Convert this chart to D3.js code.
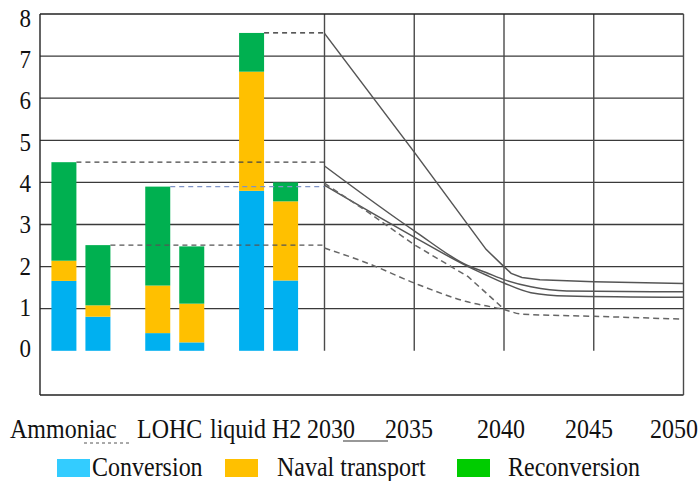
<!DOCTYPE html>
<html>
<head>
<meta charset="utf-8">
<script src="https://cdn.jsdelivr.net/npm/d3@7"></script>
<style>
  html, body { margin: 0; padding: 0; background: #fff; }
  svg { display: block; }
  svg text { font-family: 'Liberation Serif', 'DejaVu Serif', serif; }
</style>
</head>
<body>
<div id="chart"></div>
<script>
// bars: two bars per carrier, stacked cost parts
const groups = ["Ammoniac", "LOHC", "liquid H2"];
const barGroup = ["Ammoniac", "Ammoniac", "LOHC", "LOHC", "liquid H2", "liquid H2"];
const barVariant = [0, 1, 0, 1, 0, 1];
const conversion = [1.66, 0.81, 0.42, 0.20, 3.80, 1.67];
const naval = [0.48, 0.27, 1.13, 0.92, 2.83, 1.88];
const reconversion = [2.34, 1.43, 2.35, 1.36, 0.92, 0.45];
const parts = ["Conversion", "Naval transport", "Reconversion"];

// projections 2030-2050
const yearTicks = [2030, 2035, 2040, 2045, 2050];
const highYears = [2030, 2035, 2039, 2040, 2040.4, 2041, 2042, 2045, 2050];
const highValues = [7.54, 4.72, 2.41, 2.0, 1.84, 1.74, 1.69, 1.64, 1.60];
const ammYears = [2030, 2035, 2038, 2039, 2040, 2041.5, 2043.5, 2050];
const ammValues = [4.39, 2.85, 2.02, 1.86, 1.69, 1.52, 1.42, 1.40];
const lohcYears = [2030, 2035, 2038, 2039, 2040, 2041.5, 2043.5, 2050];
const lohcValues = [3.93, 2.70, 2.0, 1.80, 1.61, 1.38, 1.30, 1.27];
const lh2LowYears = [2030, 2032.5, 2035, 2038, 2040];
const lh2LowValues = [3.98, 3.27, 2.52, 1.76, 0.99];
const lowYears = [2030, 2032.4, 2035, 2037.9, 2040, 2041, 2045, 2050];
const lowValues = [2.44, 2.08, 1.61, 1.17, 0.98, 0.87, 0.82, 0.75];

const yTicks = [0, 1, 2, 3, 4, 5, 6, 7, 8];

const width = 698, height = 481;
const svg = d3.select("#chart").append("svg")
  .attr("width", width).attr("height", height);

const y = d3.scaleLinear().domain([-1.05, 8]).range([395, 14]);
const yLabel = d3.scaleLinear().domain([0, 8]).range([348.5, 18]);
const xYear = d3.scaleLinear().domain([2030, 2050]).range([324.5, 683.5]);
const xGroup = d3.scaleBand().domain(groups).range([34, 315.5]);
const xInner = d3.scaleBand().domain([0, 1]).range([0, 59]).paddingInner(0.265);
const barX = i => xGroup(barGroup[i]) + (xGroup.bandwidth() - 59) / 2 + xInner(barVariant[i]);

const plotLeft = 40, plotRight = xYear(2050), plotTop = y(8), plotBottom = y(-1.05);

// horizontal grid
svg.append("g").selectAll("line")
  .data(yTicks.filter(d => d > 0 && d < 8))
  .enter().append("line")
  .attr("x1", plotLeft).attr("x2", plotRight)
  .attr("y1", d => y(d)).attr("y2", d => y(d))
  .attr("stroke", "#3a3a3a").attr("stroke-width", 1.3);

// vertical year lines
svg.append("g").selectAll("line")
  .data(yearTicks.slice(0, -1))
  .enter().append("line")
  .attr("x1", d => xYear(d)).attr("x2", d => xYear(d))
  .attr("y1", plotTop).attr("y2", y(0))
  .attr("stroke", "#4a4a4a").attr("stroke-width", 1.4);

// stacked bars
const rows = conversion.map((c, i) => ({ i, "Conversion": c, "Naval transport": naval[i], "Reconversion": reconversion[i] }));
const stack = d3.stack().keys(parts)(rows);
const barColor = d3.scaleOrdinal().domain(parts).range(["#00b0f0", "#ffc000", "#00b050"]);

svg.append("g").selectAll("g")
  .data(stack)
  .enter().append("g")
  .attr("fill", d => barColor(d.key))
  .selectAll("rect")
  .data(d => d)
  .enter().append("rect")
  .attr("x", d => barX(d.data.i))
  .attr("width", xInner.bandwidth())
  .attr("y", d => y(d[1]))
  .attr("height", d => y(d[0]) - y(d[1]));

// dashed connectors from bar tops to 2030
const totals = conversion.map((c, i) => c + naval[i] + reconversion[i]);
const connectors = [
  { bar: 4, color: "#222" },
  { bar: 0, color: "#444" },
  { bar: 2, color: "#7f93c6" },
  { bar: 1, color: "#555" }
];
svg.append("g").selectAll("line")
  .data(connectors)
  .enter().append("line")
  .attr("x1", d => barX(d.bar) + xInner.bandwidth())
  .attr("x2", xYear(2030))
  .attr("y1", d => y(totals[d.bar])).attr("y2", d => y(totals[d.bar]))
  .attr("stroke", d => d.color)
  .attr("stroke-width", 1.3)
  .attr("stroke-dasharray", "5,4");

// projection lines
const zip = (a, b) => a.map((v, k) => [v, b[k]]);
const lineLinear = d3.line().x(d => xYear(d[0])).y(d => y(d[1]));
const lineSmooth = d3.line().x(d => xYear(d[0])).y(d => y(d[1])).curve(d3.curveMonotoneX);
const series = [
  { pts: zip(highYears, highValues), dash: null, gen: lineLinear },
  { pts: zip(ammYears, ammValues), dash: null, gen: lineSmooth },
  { pts: zip(lohcYears, lohcValues), dash: null, gen: lineSmooth },
  { pts: zip(lh2LowYears, lh2LowValues), dash: "6,4", gen: lineLinear },
  { pts: zip(lowYears, lowValues), dash: "6,4", gen: lineSmooth }
];
svg.append("g").selectAll("path")
  .data(series)
  .enter().append("path")
  .attr("d", d => d.gen(d.pts))
  .attr("fill", "none")
  .attr("stroke", d => d.dash ? "#666" : "#555")
  .attr("stroke-width", 1.5)
  .attr("stroke-dasharray", d => d.dash);

// frame
const frame = svg.append("g").attr("stroke", "#222").attr("stroke-width", 1.4);
frame.append("line").attr("x1", plotLeft).attr("x2", plotRight).attr("y1", plotTop).attr("y2", plotTop);
frame.append("line").attr("x1", plotLeft).attr("x2", plotRight).attr("y1", plotBottom).attr("y2", plotBottom);
frame.append("line").attr("x1", plotLeft).attr("x2", plotLeft).attr("y1", plotTop).attr("y2", plotBottom);
frame.append("line").attr("x1", plotRight).attr("x2", plotRight).attr("y1", plotTop).attr("y2", plotBottom)
  .attr("stroke", "#4a4a4a");

const serif = "'Liberation Serif', 'DejaVu Serif', serif";

// y labels
svg.append("g").selectAll("text")
  .data(yTicks)
  .enter().append("text")
  .attr("transform", d => `translate(31,${yLabel(d)}) scale(1,1.1)`)
  .attr("dy", "0.35em")
  .attr("text-anchor", "end")
  .attr("font-family", serif)
  .attr("font-size", 23)
  .attr("fill", "#111")
  .text(d => d);

// bottom caption line (typed text box)
const caption = [
  { t: groups[0], x: 10 },
  { t: "LOHC", x: 137 },
  { t: "liquid", x: 210 },
  { t: "H2", x: 272 },
  { t: String(yearTicks[0]), x: 307 },
  { t: String(yearTicks[1]), x: 385 },
  { t: String(yearTicks[2]), x: 477 },
  { t: String(yearTicks[3]), x: 565 },
  { t: String(yearTicks[4]), x: 650 }
];
svg.append("g").selectAll("text")
  .data(caption)
  .enter().append("text")
  .attr("transform", d => `translate(${d.x},438) scale(1,1.1)`)
  .attr("font-family", serif)
  .attr("font-size", 24)
  .attr("fill", "#111")
  .text(d => d.t);

// stray underlines in the caption
svg.append("line").attr("x1", 84).attr("x2", 132).attr("y1", 443).attr("y2", 443)
  .attr("stroke", "#555").attr("stroke-width", 1).attr("stroke-dasharray", "3,3");
svg.append("line").attr("x1", 343).attr("x2", 388).attr("y1", 441).attr("y2", 441)
  .attr("stroke", "#333").attr("stroke-width", 1.2);

// legend
const legendColor = d3.scaleOrdinal().domain(parts).range(["#33ccff", "#ffc000", "#00cc00"]);
const legendItems = [
  { key: parts[0], sx: 57, tx: 92 },
  { key: parts[1], sx: 225, tx: 277 },
  { key: parts[2], sx: 457, tx: 508 }
];
const legend = svg.append("g");
legend.selectAll("rect")
  .data(legendItems)
  .enter().append("rect")
  .attr("x", d => d.sx).attr("y", 459)
  .attr("width", 33).attr("height", 18)
  .attr("fill", d => legendColor(d.key));
legend.selectAll("text")
  .data(legendItems)
  .enter().append("text")
  .attr("transform", d => `translate(${d.tx},476) scale(1,1.1)`)
  .attr("font-family", serif)
  .attr("font-size", 24)
  .attr("fill", "#111")
  .text(d => d.key);
</script>
</body>
</html>
